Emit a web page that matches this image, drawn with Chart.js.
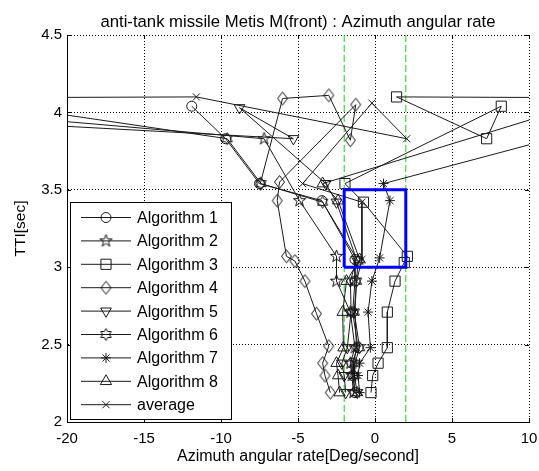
<!DOCTYPE html>
<html><head><meta charset="utf-8">
<script src="https://cdn.jsdelivr.net/npm/chart.js@4/dist/chart.umd.min.js"></script>
<style>html,body{margin:0;padding:0;background:#fff}#wrap{width:539px;height:471px}</style>
</head><body><div id="wrap"><canvas id="c" width="539" height="471"></canvas></div>
<script>
const titleText = 'anti-tank missile Metis M(front) : Azimuth angular rate';
const xLabel = 'Azimuth angular rate[Deg/second]';
const yLabel = 'TTI[sec]';
const xTicks = [-20, -15, -10, -5, 0, 5, 10];
const yTicks = [2, 2.5, 3, 3.5, 4, 4.5];
const seriesNames = ['Algorithm 1','Algorithm 2','Algorithm 3','Algorithm 4','Algorithm 5','Algorithm 6','Algorithm 7','Algorithm 8','average'];

const alg1X = [-11.9, -9.7, -7.5, -3.45, -1.3, -1.3, -1.45, -1.1, -1.5, -1.45, -1.3];
const alg1T = [4.04, 3.83, 3.54, 3.43, 3.05, 2.91, 2.71, 2.48, 2.38, 2.30, 2.19];
const alg2X = [-38.6, -7.2, -4.9, -2.5, -2.5, -1.6, -1.3, -1.6, -1.5, -1.4];
const alg2T = [4.10, 3.83, 3.43, 3.07, 2.91, 2.71, 2.48, 2.38, 2.30, 2.19];
const alg3X = [40, 1.4, 7.25, 8.2, -1.95, -0.75, 2.1, 1.9, 1.3, 0.8, 0.8, 0.2, -0.15, -0.26];
const alg3T = [4.085, 4.10, 3.83, 4.04, 3.54, 3.42, 3.07, 3.03, 2.91, 2.71, 2.48, 2.38, 2.30, 2.19];
const alg4X = [-7.45, -6.0, -3.0, -1.6, -1.25, -6.2, -6.35, -5.75, -5.2, -4.55, -3.8, -3.0, -3.4, -3.25, -2.9];
const alg4T = [3.54, 4.09, 4.11, 3.82, 4.05, 3.55, 3.43, 3.07, 3.04, 2.91, 2.70, 2.49, 2.38, 2.30, 2.19];
const alg5X = [-55, -5.3, -8.8, -3.2, -2.5, -1.2, -1.6, -1.55, -1.8, -2.15, -2.0, -1.9];
const alg5T = [4.10, 3.83, 4.03, 3.54, 3.42, 3.05, 2.91, 2.71, 2.48, 2.38, 2.30, 2.19];
const alg6X = [-28, -9.6, -7.4, -3.4, -1.1, -1.2, -1.35, -1.0, -1.3, -1.35, -1.15];
const alg6T = [4.10, 3.83, 3.54, 3.42, 3.04, 2.91, 2.71, 2.48, 2.38, 2.30, 2.19];
const alg7X = [21.7, 0.55, 0.97, 0.3, -0.2, -0.45, -0.3, -1.0, -1.1, -1.0];
const alg7T = [4.10, 3.54, 3.43, 3.06, 2.91, 2.71, 2.48, 2.38, 2.30, 2.19];
const alg8X = [14.9, -3.4, -2.4, -1.0, -1.85, -2.1, -2.05, -2.5, -2.4, -2.3];
const alg8T = [4.10, 3.54, 3.43, 3.05, 2.91, 2.71, 2.48, 2.38, 2.30, 2.19];
const avgX = [-40, -11.6, 2.06, -0.2, -4.7, -0.85, -0.85, -1.2, -1.3, -1.2, -1.4, -1.4, -1.3];
const avgT = [4.09, 4.10, 3.83, 4.06, 3.54, 3.42, 3.05, 2.91, 2.71, 2.48, 2.38, 2.30, 2.19];

const windowX = [-2, 2, 2, -2, -2];
const windowT = [3.0, 3.0, 3.5, 3.5, 3.0];
const limitLeftX = [-2, -2];
const limitRightX = [2, 2];
const limitT = [2, 4.5];

const FONT = '"Liberation Sans", Arial, Helvetica, sans-serif';
const TARGET = { left: 67, top: 35, right: 529, bottom: 422 };

function pts(xs, ts) { return xs.map((x, i) => ({ x: x, y: ts[i] })); }

function shapeCanvas(w, h, drawFn) {
  const cv = document.createElement('canvas');
  cv.width = w; cv.height = h;
  const g = cv.getContext('2d');
  g.strokeStyle = '#111';
  g.lineWidth = 1;
  g.beginPath();
  drawFn(g, w / 2, h / 2);
  g.closePath();
  g.stroke();
  return cv;
}
function starPath(n, outer, inner) {
  return (g, cx, cy) => {
    for (let i = 0; i < 2 * n; i++) {
      const r = i % 2 === 0 ? outer : inner;
      const a = -Math.PI / 2 + i * Math.PI / n;
      const px = cx + r * Math.cos(a), py = cy + r * Math.sin(a);
      if (i === 0) g.moveTo(px, py); else g.lineTo(px, py);
    }
  };
}
const pentagram = shapeCanvas(15, 15, starPath(5, 6.5, 2.6));
const hexagram = shapeCanvas(15, 15, starPath(6, 6, 3.4));
const diamond = shapeCanvas(13, 16, (g, cx, cy) => {
  g.moveTo(cx, cy - 6.5); g.lineTo(cx + 5, cy); g.lineTo(cx, cy + 6.5); g.lineTo(cx - 5, cy);
});

const styles = [
  { pointStyle: 'circle', radius: 5, rotation: 0 },
  { pointStyle: pentagram, radius: 6, rotation: 0 },
  { pointStyle: 'rect', radius: 7.2, rotation: 0 },
  { pointStyle: diamond, radius: 6.5, rotation: 0 },
  { pointStyle: 'triangle', radius: 6.2, rotation: 180 },
  { pointStyle: hexagram, radius: 6, rotation: 0 },
  { pointStyle: 'star', radius: 5, rotation: 0 },
  { pointStyle: 'triangle', radius: 6.5, rotation: 0 },
  { pointStyle: 'crossRot', radius: 5, rotation: 0 }
];
const seriesData = [
  pts(alg1X, alg1T), pts(alg2X, alg2T), pts(alg3X, alg3T), pts(alg4X, alg4T),
  pts(alg5X, alg5T), pts(alg6X, alg6T), pts(alg7X, alg7T), pts(alg8X, alg8T), pts(avgX, avgT)
];

const datasets = seriesData.map((d, i) => ({
  label: seriesNames[i],
  data: d,
  showLine: true,
  borderColor: '#1a1a1a',
  borderWidth: 1,
  tension: 0,
  pointStyle: styles[i].pointStyle,
  pointRadius: styles[i].radius,
  pointRotation: styles[i].rotation,
  pointBorderColor: '#1a1a1a',
  pointBackgroundColor: 'rgba(0,0,0,0)',
  pointBorderWidth: 1,
  order: 5
}));
datasets.push({
  label: 'limitL', data: pts(limitLeftX, limitT), showLine: true, borderColor: '#22cc22',
  borderWidth: 1, borderDash: [7, 3], pointRadius: 0, order: 8
});
datasets.push({
  label: 'limitR', data: pts(limitRightX, limitT), showLine: true, borderColor: '#22cc22',
  borderWidth: 1, borderDash: [7, 3], pointRadius: 0, order: 8
});
datasets.push({
  label: 'window', data: pts(windowX, windowT), showLine: true, borderColor: '#0000ff',
  borderWidth: 3, pointRadius: 0, order: 1
});

const decor = {
  id: 'decor',
  afterDraw(chart) {
    const ctx = chart.ctx;
    const ca = chart.chartArea;
    const xs = chart.scales.x, ys = chart.scales.y;
    ctx.save();
    // inner tick marks
    ctx.strokeStyle = '#000';
    ctx.lineWidth = 1;
    ctx.beginPath();
    xTicks.forEach(v => {
      const px = Math.round(xs.getPixelForValue(v)) + 0.5;
      ctx.moveTo(px, ca.bottom); ctx.lineTo(px, ca.bottom - 4);
      ctx.moveTo(px, ca.top); ctx.lineTo(px, ca.top + 4);
    });
    yTicks.forEach(v => {
      const py = Math.round(ys.getPixelForValue(v)) + 0.5;
      ctx.moveTo(ca.left, py); ctx.lineTo(ca.left + 4, py);
      ctx.moveTo(ca.right, py); ctx.lineTo(ca.right - 4, py);
    });
    ctx.stroke();

    ctx.fillStyle = '#000';
    ctx.font = '16.7px ' + FONT;
    ctx.textAlign = 'center';
    ctx.textBaseline = 'alphabetic';
    ctx.fillText(titleText, (ca.left + ca.right) / 2, 27);
    ctx.font = '16px ' + FONT;
    ctx.textBaseline = 'middle';
    ctx.fillText(xLabel, (ca.left + ca.right) / 2, 457);
    ctx.save();
    ctx.font = '15.5px ' + FONT;
    ctx.translate(21, (ca.top + ca.bottom) / 2);
    ctx.rotate(-Math.PI / 2);
    ctx.fillText(yLabel, 0, 0);
    ctx.restore();

    // legend box
    const bx = ca.left + 3, bw = 161, bh = 217, by = ca.bottom - 3 - bh;
    ctx.fillStyle = '#fff';
    ctx.fillRect(bx, by, bw, bh);
    ctx.strokeStyle = '#000';
    ctx.lineWidth = 1;
    ctx.strokeRect(bx + 0.5, by + 0.5, bw, bh);
    ctx.font = '16px ' + FONT;
    ctx.textAlign = 'left';
    ctx.textBaseline = 'middle';
    for (let i = 0; i < seriesNames.length; i++) {
      const ry = by + 15.5 + i * 23.4;
      ctx.strokeStyle = '#1a1a1a';
      ctx.lineWidth = 1;
      ctx.beginPath();
      ctx.moveTo(bx + 11, ry);
      ctx.lineTo(bx + 61, ry);
      ctx.stroke();
      ctx.fillStyle = 'rgba(0,0,0,0)';
      if (Chart.helpers && Chart.helpers.drawPoint) {
        Chart.helpers.drawPoint(ctx, {
          pointStyle: styles[i].pointStyle, rotation: styles[i].rotation,
          radius: styles[i].radius, borderWidth: 1
        }, bx + 36, ry);
      }
      ctx.fillStyle = '#000';
      ctx.fillText(seriesNames[i], bx + 67, ry + 1);
    }
    ctx.restore();
  }
};

const cfg = {
  type: 'scatter',
  data: { datasets: datasets },
  options: {
    responsive: false,
    devicePixelRatio: 1,
    animation: false,
    events: [],
    layout: { padding: { left: 0, right: 10, top: 35, bottom: 0 } },
    plugins: { legend: { display: false }, title: { display: false }, tooltip: { enabled: false } },
    scales: {
      x: {
        type: 'linear', min: -20, max: 10,
        afterBuildTicks: s => { s.ticks = xTicks.map(v => ({ value: v })); },
        afterFit: s => { s.height = 49; s.paddingLeft = 0; s.paddingRight = 0; },
        grid: { color: '#000', lineWidth: 1, drawTicks: false },
        border: { display: true, color: '#000', width: 1, dash: [1, 2] },
        ticks: { color: '#000', font: { family: FONT, size: 15 }, padding: 8, maxRotation: 0, autoSkip: false,
                 callback: v => String(v) }
      },
      y: {
        type: 'linear', min: 2, max: 4.5,
        afterBuildTicks: s => { s.ticks = yTicks.map(v => ({ value: v })); },
        afterFit: s => { s.width = 67; s.paddingTop = 0; s.paddingBottom = 0; },
        grid: { color: '#000', lineWidth: 1, drawTicks: false },
        border: { display: true, color: '#000', width: 1, dash: [1, 2] },
        ticks: { color: '#000', font: { family: FONT, size: 15 }, padding: 5, autoSkip: false,
                 callback: v => String(v) }
      }
    }
  },
  plugins: [decor]
};
const chart = new Chart(document.getElementById('c'), cfg);
// calibrate the plot area so it sits where the reference axes are
const ca0 = Object.assign({}, chart.chartArea);
const pad = cfg.options.layout.padding;
const dTop = TARGET.top - ca0.top, dRight = ca0.right - TARGET.right, dBottom = ca0.bottom - TARGET.bottom;
if (Math.abs(dTop) > 0.5 || Math.abs(dRight) > 0.5 || Math.abs(dBottom) > 0.5) {
  pad.top = Math.max(0, pad.top + dTop);
  pad.right = Math.max(0, pad.right + dRight);
  pad.bottom = Math.max(0, pad.bottom + dBottom);
  chart.update();
}
</script>
</body></html>
